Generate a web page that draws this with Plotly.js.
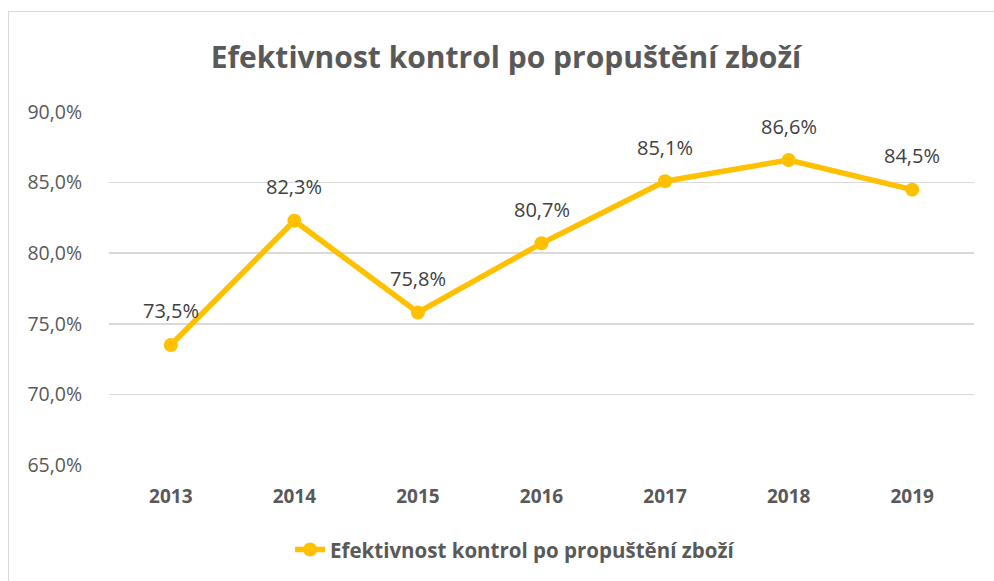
<!DOCTYPE html>
<html>
<head>
<meta charset="utf-8">
<script src="https://cdn.plot.ly/plotly-3.0.1.min.js"></script>
<style>
html,body{margin:0;padding:0;background:#fff;overflow:hidden;}
#chart{position:absolute;left:8px;top:11px;width:986px;height:570px;border-top:1px solid #d9d9d9;border-left:1px solid #d9d9d9;}
</style>
</head>
<body>
<div id="chart"></div>
<script>
const years = ['2013','2014','2015','2016','2017','2018','2019'];
const values = [0.735, 0.823, 0.758, 0.807, 0.851, 0.866, 0.845];
const yTicks = [0.65, 0.70, 0.75, 0.80, 0.85, 0.90];
const seriesName = 'Efektivnost kontrol po propuštění zboží';
const chartTitle = 'Efektivnost kontrol po propuštění zboží';

const fmt = v => (v * 100).toFixed(1).replace('.', ',') + '%';

const trace = {
  x: years,
  y: values,
  type: 'scatter',
  mode: 'lines+markers',
  name: seriesName,
  line: {color: '#FFC000', width: 5.5},
  marker: {color: '#FFC000', size: 14},
  hoverinfo: 'skip',
  cliponaxis: false
};

// category index i corresponds to years[i]
const labels = years.map((yr, i) => ({
  x: i, y: values[i], xref: 'x', yref: 'y',
  text: fmt(values[i]),
  showarrow: false,
  yshift: 34,
  font: {family: 'Open Sans, sans-serif', size: 20, color: '#404040'}
}));

const layout = {
  width: 986,
  height: 570,
  separators: ', ',
  paper_bgcolor: '#fff',
  plot_bgcolor: '#fff',
  margin: {l: 100, r: 21, t: 100, b: 117},
  title: {
    text: '<b>' + chartTitle + '</b>',
    font: {family: 'Open Sans, sans-serif', size: 30, color: '#595959'},
    x: 0.504, xanchor: 'center', xref: 'container',
    y: 0.921, yanchor: 'middle', yref: 'container'
  },
  xaxis: {
    type: 'category',
    categoryorder: 'array',
    categoryarray: years,
    range: [-0.5, years.length - 0.5],
    autorange: false,
    showgrid: false,
    showline: false,
    zeroline: false,
    ticks: 'outside', ticklen: 14, tickcolor: 'rgba(0,0,0,0)',
    tickfont: {family: 'Open Sans, sans-serif', size: 19, color: '#595959', weight: 'bold'},
    fixedrange: true
  },
  yaxis: {
    range: [0.65, 0.90],
    autorange: false,
    tickvals: yTicks,
    tickformat: '.1%',
    showgrid: true,
    gridcolor: '#d9d9d9',
    gridwidth: 1.5,
    zeroline: false,
    showline: false,
    ticks: 'outside', ticklen: 22, tickcolor: 'rgba(0,0,0,0)',
    tickfont: {family: 'Open Sans, sans-serif', size: 19.5, color: '#595959'},
    fixedrange: true
  },
  annotations: labels,
  showlegend: true,
  legend: {
    orientation: 'h',
    x: 0.47, xanchor: 'center',
    y: -0.24, yanchor: 'middle',
    font: {family: 'Open Sans, sans-serif', size: 20.5, color: '#595959', weight: 'bold'}
  }
};

Plotly.newPlot('chart', [trace], layout, {displayModeBar: false, staticPlot: true});
</script>
</body>
</html>
